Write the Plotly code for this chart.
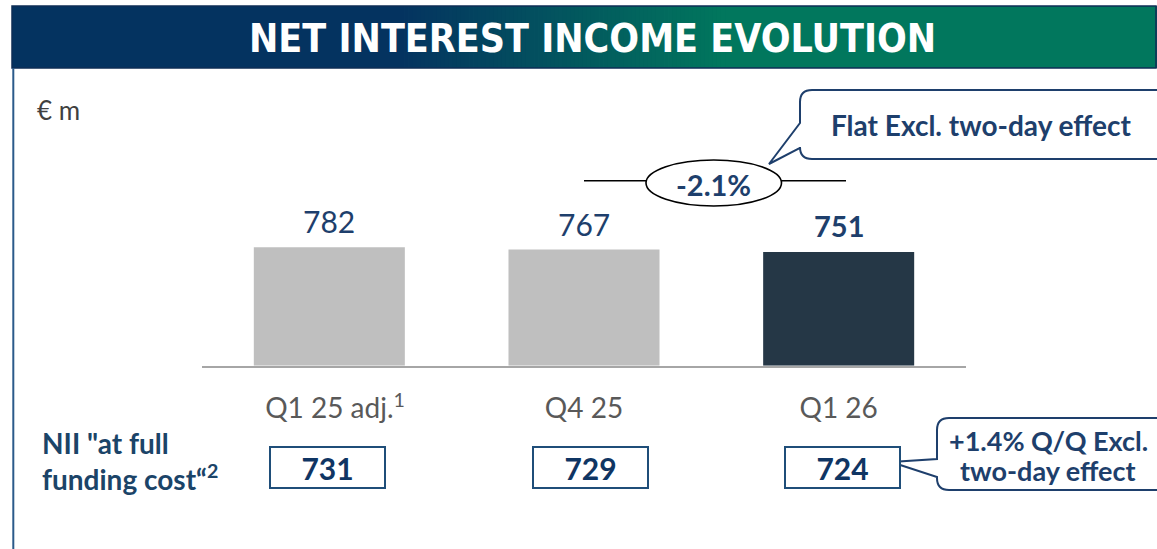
import plotly.graph_objects as go

# ---------------- data ----------------
categories = ["Q1 25 adj.", "Q4 25", "Q1 26"]
footnote_marks = ["1", "", ""]
nii_values = [782, 767, 751]
nii_full_funding = [731, 729, 724]
bar_colors = ["#BFBFBF", "#BFBFBF", "#253746"]
title_text = "NET INTEREST INCOME EVOLUTION"
unit_text = "€ m"
row_label_lines = ['NII "at full', 'funding cost“<sup>2</sup>']
callout_top = "Flat Excl. two-day effect"
callout_bottom_lines = ["+1.4% Q/Q Excl.", "two-day effect"]

W, H = 1157, 549
NAVY = "#1E3F6C"
FONT = "Lato, 'Noto Sans', sans-serif"


def px(x):
    return x / W


def py(y):
    return 1 - y / H


def path_px(cmds):
    out = []
    for c in cmds:
        if isinstance(c, str):
            out.append(c)
        else:
            out.append(f"{px(c[0]):.5f},{py(c[1]):.5f}")
    return " ".join(out)


hidden = '<span style="color:rgba(0,0,0,0)"><sup>{}</sup></span>'
tick_text = [
    (hidden.format(m) if m else "") + c + (f"<sup>{m}</sup>" if m else "")
    for c, m in zip(categories, footnote_marks)
]

fig = go.Figure(
    go.Bar(
        x=categories,
        y=nii_values,
        width=0.593,
        marker=dict(color=bar_colors, line=dict(width=0)),
        hoverinfo="skip",
    )
)

shapes = []
annotations = []

# ---- title banner with gradient ----
c_left = (4, 51, 96)
c_right = (1, 119, 93)
g0, g1 = 400, 725
shapes.append(dict(type="rect", xref="paper", yref="paper", x0=px(12), x1=px(g0 + 1),
                   y0=py(68), y1=py(6), fillcolor="rgb(%d,%d,%d)" % c_left, line=dict(width=0), layer="below"))
shapes.append(dict(type="rect", xref="paper", yref="paper", x0=px(g1 - 1), x1=px(1160),
                   y0=py(68), y1=py(6), fillcolor="rgb(%d,%d,%d)" % c_right, line=dict(width=0), layer="below"))
n = 80
step = (g1 - g0) / n
for i in range(n):
    t = (i + 0.5) / n
    col = tuple(round(a + (b - a) * t) for a, b in zip(c_left, c_right))
    shapes.append(dict(type="rect", xref="paper", yref="paper",
                       x0=px(g0 + i * step), x1=px(g0 + (i + 1) * step + 0.8),
                       y0=py(68), y1=py(6), fillcolor="rgb(%d,%d,%d)" % col,
                       line=dict(width=0), layer="below"))
shapes.append(dict(type="rect", xref="paper", yref="paper", x0=px(12), x1=px(1156),
                   y0=py(68), y1=py(6), line=dict(color="#0E2E55", width=1.5), layer="below"))
# left frame line
shapes.append(dict(type="line", xref="paper", yref="paper", x0=px(13.3), x1=px(13.3),
                   y0=py(68), y1=0, line=dict(color="#2B5A8A", width=2)))

annotations.append(dict(xref="paper", yref="paper", x=px(592), y=py(38), text=f"<b>{title_text}</b>",
                        showarrow=False, xanchor="center", yanchor="middle",
                        font=dict(family="'Liberation Sans Narrow', 'DejaVu Sans Condensed', 'Roboto Condensed', Lato, sans-serif",
                                  size=39, color="white")))

# unit
annotations.append(dict(xref="paper", yref="paper", x=px(35), y=py(110), text=unit_text,
                        showarrow=False, xanchor="left", yanchor="middle",
                        font=dict(family=FONT, size=26, color="#404040")))

# value labels above bars
for i, (c, v) in enumerate(zip(categories, nii_values)):
    last = i == len(categories) - 1
    annotations.append(dict(x=c, y=v, xref="x", yref="y", text=f"<b>{v}</b>" if last else str(v),
                            showarrow=False, xanchor="center", yanchor="middle", yshift=26,
                            font=dict(family=FONT, size=30 if not last else 29, color=NAVY)))

# change bracket: line + ellipse + text
pct = (nii_values[2] / nii_values[1] - 1) * 100
shapes.append(dict(type="line", xref="paper", yref="paper", x0=px(584), x1=px(846), y0=py(180.7), y1=py(180.7),
                   line=dict(color="black", width=1.6)))
shapes.append(dict(type="circle", xref="paper", yref="paper", x0=px(646), x1=px(781.5), y0=py(206), y1=py(160),
                   fillcolor="white", line=dict(color="black", width=1.6)))
annotations.append(dict(xref="paper", yref="paper", x=px(713.5), y=py(184), text=f"<b>{pct:.1f}%</b>",
                        showarrow=False, xanchor="center", yanchor="middle",
                        font=dict(family=FONT, size=29, color=NAVY)))

# top callout
r = 12
top_path = path_px([
    "M", (800, 123), "L", (800, 90 + r), "Q", (800, 90), (800 + r, 90), "L", (1170, 90),
    "L", (1170, 159), "L", (800 + r, 159), "Q", (800, 159), (800, 159 - r), "L", (800, 148),
    "L", (769, 164), "Z",
])
shapes.append(dict(type="path", xref="paper", yref="paper", path=top_path, fillcolor="white",
                   line=dict(color=NAVY, width=2)))
annotations.append(dict(xref="paper", yref="paper", x=px(981), y=py(125), text=f"<b>{callout_top}</b>",
                        showarrow=False, xanchor="center", yanchor="middle",
                        font=dict(family=FONT, size=28, color=NAVY)))

# x-axis row label (two lines)
for txt, yy in zip(row_label_lines, [443, 477]):
    annotations.append(dict(xref="paper", yref="paper", x=px(40), y=py(yy), text=f"<b>{txt}</b>",
                            showarrow=False, xanchor="left", yanchor="middle", align="left",
                            font=dict(family=FONT, size=28, color="#1B4468")))

# NII at full funding cost boxes
box_xshift = [-2, 6, 4]
for i, (c, v) in enumerate(zip(categories, nii_full_funding)):
    annotations.append(dict(x=c, xref="x", yref="paper", y=py(468), text=f"<b>{v}</b>",
                            showarrow=False, xanchor="center", yanchor="middle", xshift=box_xshift[i],
                            width=113, height=39, borderpad=0, bordercolor="#1F4E79", borderwidth=2,
                            bgcolor="white",
                            font=dict(family=FONT, size=30, color="#0F3563")))

# bottom callout
bot_path = path_px([
    "M", (937, 459), "L", (937, 418 + r), "Q", (937, 418), (937 + r, 418), "L", (1170, 418),
    "L", (1170, 490), "L", (937 + r, 490), "Q", (937, 490), (937, 490 - r), "L", (937, 477),
    "L", (891, 462), "Z",
])
shapes.append(dict(type="path", xref="paper", yref="paper", path=bot_path, fillcolor="white",
                   line=dict(color=NAVY, width=2)))
for txt, yy in zip(callout_bottom_lines, [440, 470]):
    annotations.append(dict(xref="paper", yref="paper", x=px(1048), y=py(yy), text=f"<b>{txt}</b>",
                            showarrow=False, xanchor="center", yanchor="middle", align="center",
                            font=dict(family=FONT, size=27, color=NAVY)))

fig.update_layout(
    width=W,
    height=H,
    margin=dict(l=0, r=0, t=0, b=0),
    paper_bgcolor="white",
    plot_bgcolor="white",
    showlegend=False,
    shapes=shapes,
    annotations=annotations,
    xaxis=dict(
        domain=[px(202), px(966)],
        range=[-0.5, 2.5],
        type="category",
        tickvals=categories,
        ticktext=tick_text,
        showline=True,
        linecolor="#A6A6A6",
        linewidth=2,
        ticks="",
        showgrid=False,
        zeroline=False,
        ticklabelstandoff=17,
        tickfont=dict(family=FONT, size=28, color="#595959"),
        fixedrange=True,
    ),
    yaxis=dict(
        domain=[py(365.7), py(100)],
        range=[0, 265.7 * 782 / 118.4],
        visible=False,
        showgrid=False,
        zeroline=False,
        fixedrange=True,
    ),
)

fig.write_html(
    "out.html",
    config={"displayModeBar": False},
    post_script="document.body.style.margin='0';document.body.style.overflow='hidden';",
)
